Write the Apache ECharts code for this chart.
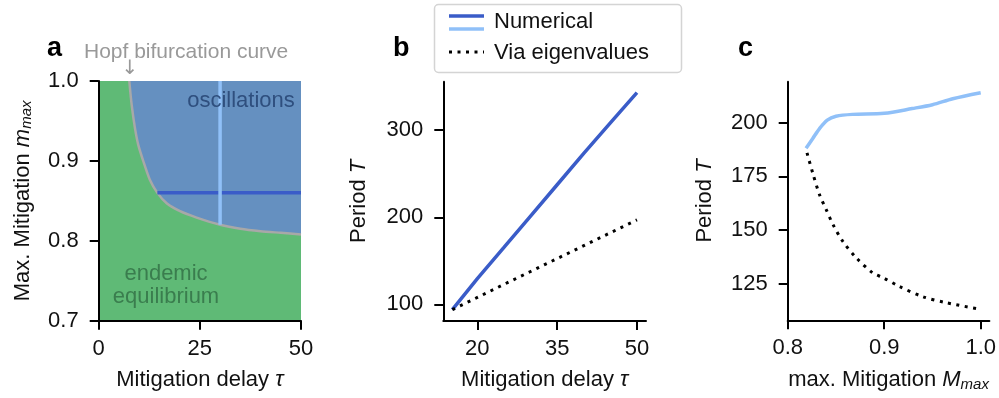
<!DOCTYPE html>
<html>
<head>
<meta charset="utf-8">
<script src="https://cdn.jsdelivr.net/npm/echarts@6/dist/echarts.min.js"></script>
<style>
  html, body { margin: 0; padding: 0; background: #fff; }
  #chart { width: 999px; height: 398px; }
</style>
</head>
<body>
<div id="chart"></div>
<script>
// panel a: Hopf bifurcation curve (tau, m_max)
const hopfTau = [7.56, 8.15, 8.96, 9.78, 11.0, 12.67, 14.5, 16.8, 20.1, 24.2, 30, 35, 40, 45, 50];
const hopfM = [1.0, 0.970, 0.941, 0.920, 0.900, 0.876, 0.860, 0.847, 0.837, 0.829, 0.820, 0.815, 0.812, 0.810, 0.808];
const vertLineTau = [30, 30];
const vertLineM = [0.820, 1.0];
const horizLineTau = [14.5, 50];
const horizLineM = [0.86, 0.86];

// panel b: period vs delay
const delayTau = [15.3, 20, 25, 30, 35, 40, 45, 50];
const numericalB = [94, 129.7, 165.5, 201.4, 237.3, 273.2, 308.2, 343];
const eigenB = [94, 108, 123, 137.8, 152.6, 167.4, 182.2, 197];

// panel c: period vs max mitigation
const mitNum = [0.819, 0.826, 0.833, 0.841, 0.85, 0.867, 0.9, 0.929, 0.95, 0.971, 1.0];
const numericalC = [188.0, 192.6, 197.2, 201.1, 202.9, 203.8, 204.3, 206.5, 208.3, 211.1, 213.9];
const mitEig = [0.82, 0.826, 0.833, 0.84, 0.847, 0.857, 0.871, 0.888, 0.899, 0.915, 0.94, 0.964, 1.0];
const eigenC = [185.9, 176.4, 166.4, 159.4, 152.5, 144.8, 137.1, 130.1, 127.8, 123.9, 119.0, 116.2, 113.1];

const ticksA_x = [0, 25, 50];
const ticksA_y = [0.7, 0.8, 0.9, 1.0];
const ticksB_x = [20, 35, 50];
const ticksB_y = [100, 200, 300];
const ticksC_x = [0.8, 0.9, 1.0];
const ticksC_y = [125, 150, 175, 200];

const FONT = '"Liberation Sans", Arial, sans-serif';
const FS = 22;
const zip = (a, b) => a.map((v, i) => [v, b[i]]);

const axisLine = { show: true, lineStyle: { color: '#000', width: 2 } };
const axisTick = (vals) => ({ show: true, customValues: vals, length: 9, lineStyle: { color: '#000', width: 2 } });
const axisLabel = (vals, dec, margin) => ({
  customValues: vals, color: '#111', fontSize: FS, fontFamily: FONT, margin: margin,
  formatter: (v) => dec ? Number(v).toFixed(dec) : String(Math.round(v))
});
const rich = {
  n: { fontSize: FS, fontFamily: FONT, color: '#111' },
  i: { fontSize: FS, fontFamily: FONT, color: '#111', fontStyle: 'italic' },
  s: { fontSize: 15, fontFamily: FONT, color: '#111', fontStyle: 'italic', padding: [9, 0, 0, 0] }
};

function xAxis(idx, min, max, ticks, dec, name) {
  return {
    type: 'value', gridIndex: idx, min: min, max: max,
    axisLine: axisLine, axisTick: axisTick(ticks), axisLabel: axisLabel(ticks, dec, 17),
    splitLine: { show: false },
    name: name, nameLocation: 'middle', nameGap: 48,
    nameTextStyle: { rich: rich }
  };
}
function yAxis(idx, min, max, ticks, dec, name, gap) {
  return {
    type: 'value', gridIndex: idx, min: min, max: max,
    axisLine: axisLine, axisTick: axisTick(ticks), axisLabel: axisLabel(ticks, dec, 20),
    splitLine: { show: false },
    name: name, nameLocation: 'middle', nameGap: gap, nameRotate: 90,
    nameTextStyle: { rich: rich }
  };
}

// plain text helper for annotations
function txt(x, y, text, size, color, extra) {
  return Object.assign({
    type: 'text', x: x, y: y, z: 10,
    style: { text: text, fontSize: size, fontFamily: FONT, fill: color, verticalAlign: 'middle' }
  }, extra || {});
}

const chart = echarts.init(document.getElementById('chart'));
const option = {
  animation: false,
  backgroundColor: '#fff',
  textStyle: { fontFamily: FONT },
  grid: [
    { left: 98.7, top: 81, width: 202.3, height: 239.7, show: true, backgroundColor: '#5fba76', borderWidth: 0 },
    { left: 443.3, top: 81.7, width: 202.7, height: 239.3 },
    { left: 787.7, top: 81.7, width: 203, height: 238.6 }
  ],
  xAxis: [
    xAxis(0, 0, 50, ticksA_x, 0, '{n|Mitigation delay }{i|τ}'),
    xAxis(1, 13.6, 51.7, ticksB_x, 0, '{n|Mitigation delay }{i|τ}'),
    xAxis(2, 0.8, 1.009, ticksC_x, 1, '{n|max. Mitigation }{i|M}{s|max}')
  ],
  yAxis: [
    yAxis(0, 0.7, 1.0, ticksA_y, 1, '{n|Max. Mitigation }{i|m}{s|max}', 64),
    yAxis(1, 81, 355.5, ticksB_y, 0, '{n|Period }{i|T}', 73),
    yAxis(2, 108, 219, ticksC_y, 0, '{n|Period }{i|T}', 72)
  ],
  series: [
    {
      type: 'line', xAxisIndex: 0, yAxisIndex: 0, data: zip(hopfTau, hopfM),
      symbol: 'none', smooth: 0.25,
      lineStyle: { color: '#a8a8a8', width: 2.5 },
      areaStyle: { origin: 'end', color: '#6590c0', opacity: 1 }, z: 2
    },
    {
      type: 'line', xAxisIndex: 0, yAxisIndex: 0, data: zip(horizLineTau, horizLineM),
      symbol: 'none', lineStyle: { color: '#3a5cc8', width: 3.5 }, z: 3
    },
    {
      type: 'line', xAxisIndex: 0, yAxisIndex: 0, data: zip(vertLineTau, vertLineM),
      symbol: 'none', lineStyle: { color: '#90c0f8', width: 3.5 }, z: 4
    },
    {
      type: 'line', xAxisIndex: 1, yAxisIndex: 1, data: zip(delayTau, eigenB),
      symbol: 'none', lineStyle: { color: '#000', width: 3, type: [3, 5.5] }, z: 3
    },
    {
      type: 'line', xAxisIndex: 1, yAxisIndex: 1, data: zip(delayTau, numericalB),
      symbol: 'none', lineStyle: { color: '#3a5cc8', width: 3.5 }, z: 2
    },
    {
      type: 'line', xAxisIndex: 2, yAxisIndex: 2, data: zip(mitNum, numericalC),
      symbol: 'none', smooth: 0.3, lineStyle: { color: '#90c0f8', width: 3.5 }
    },
    {
      type: 'line', xAxisIndex: 2, yAxisIndex: 2, data: zip(mitEig, eigenC),
      symbol: 'none', smooth: 0.3, lineStyle: { color: '#000', width: 3, type: [3, 5.5] }
    }
  ],
  graphic: [
    txt(47, 49, 'a', 27, '#000', { style: { text: 'a', fontSize: 27, fontWeight: 'bold', fontFamily: FONT, fill: '#000', verticalAlign: 'middle' } }),
    txt(393, 49, 'b', 27, '#000', { style: { text: 'b', fontSize: 27, fontWeight: 'bold', fontFamily: FONT, fill: '#000', verticalAlign: 'middle' } }),
    txt(738, 49, 'c', 27, '#000', { style: { text: 'c', fontSize: 27, fontWeight: 'bold', fontFamily: FONT, fill: '#000', verticalAlign: 'middle' } }),
    txt(84, 52, 'Hopf bifurcation curve', 21, '#999'),
    { type: 'text', x: 130, y: 69, style: { text: '↓', fontSize: 20, fontFamily: '"DejaVu Sans", sans-serif', fill: '#999', align: 'center', verticalAlign: 'middle' } },
    txt(241, 101, 'oscillations', FS, '#2f4f7e', { style: { text: 'oscillations', fontSize: FS, fontFamily: FONT, fill: '#2f4f7e', align: 'center', verticalAlign: 'middle' } }),
    txt(166, 274, 'endemic', FS, '#3a7d4e', { style: { text: 'endemic', fontSize: FS, fontFamily: FONT, fill: '#3a7d4e', align: 'center', verticalAlign: 'middle' } }),
    txt(166, 297, 'equilibrium', FS, '#3a7d4e', { style: { text: 'equilibrium', fontSize: FS, fontFamily: FONT, fill: '#3a7d4e', align: 'center', verticalAlign: 'middle' } }),
    // legend
    { type: 'rect', shape: { x: 434.5, y: 4.5, width: 247, height: 68, r: 4 }, style: { fill: '#fff', stroke: '#d4d4d4', lineWidth: 1.5 }, z: 10 },
    { type: 'line', shape: { x1: 449, y1: 16, x2: 484, y2: 16 }, style: { stroke: '#3a5cc8', lineWidth: 3.5 }, z: 11 },
    { type: 'line', shape: { x1: 449, y1: 29, x2: 484, y2: 29 }, style: { stroke: '#90c0f8', lineWidth: 3.5 }, z: 11 },
    { type: 'line', shape: { x1: 449, y1: 52, x2: 484, y2: 52 }, style: { stroke: '#000', lineWidth: 3, lineDash: [3, 5.5] }, z: 11 },
    txt(494, 22, 'Numerical', FS, '#111', { z: 11 }),
    txt(494, 53, 'Via eigenvalues', FS, '#111', { z: 11 })
  ]
};
chart.setOption(option);
</script>
</body>
</html>
